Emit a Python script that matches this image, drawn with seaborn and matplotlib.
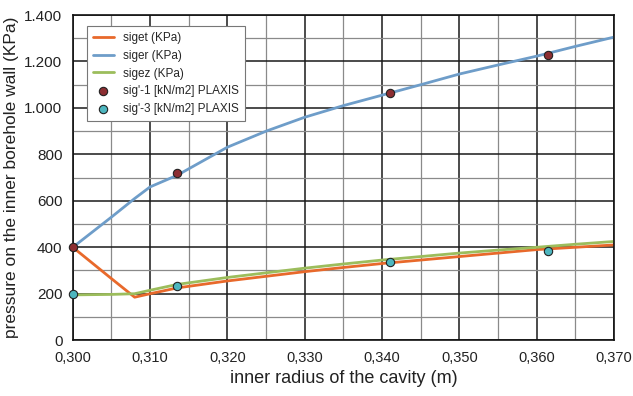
import numpy as np
import pandas as pd
import matplotlib
matplotlib.use("Agg")
import matplotlib.pyplot as plt
import seaborn as sns
from matplotlib.ticker import MultipleLocator, FuncFormatter

sns.set_style("white")
plt.rcParams['font.family'] = ['Liberation Sans', 'DejaVu Sans']

# analytical curves
r = [0.300, 0.305, 0.308, 0.310, 0.3135, 0.320, 0.325, 0.330, 0.335, 0.340, 0.345, 0.350, 0.355, 0.360, 0.365, 0.370]
siget = [400, 265, 185, 200, 225, 255, 275, 295, 313, 330, 345, 360, 375, 390, 400, 410]
siger = [400, 530, 610, 660, 710, 831, 900, 960, 1010, 1055, 1100, 1146, 1185, 1223, 1265, 1305]
sigez = [195, 197, 200, 215, 240, 270, 290, 310, 328, 345, 360, 375, 388, 400, 413, 425]

# PLAXIS points
r_pl = [0.300, 0.3135, 0.341, 0.3615]
sig1 = [400, 720, 1065, 1230]
sig3 = [200, 235, 335, 385]

df = pd.DataFrame({"r": r, "siget (KPa)": siget, "siger (KPa)": siger, "sigez (KPa)": sigez})
long = df.melt(id_vars="r", var_name="serie", value_name="p")

fig = plt.figure(figsize=(6.33, 3.96), dpi=100)
ax = fig.add_axes([0.115, 0.141, 0.855, 0.821])

ax.xaxis.set_major_locator(MultipleLocator(0.01))
ax.xaxis.set_minor_locator(MultipleLocator(0.005))
ax.yaxis.set_major_locator(MultipleLocator(200))
ax.yaxis.set_minor_locator(MultipleLocator(100))
ax.grid(which="major", color="#1a1a1a", lw=1.1)
ax.grid(which="minor", color="#8a8a8a", lw=0.9)
ax.set_axisbelow(True)

sns.lineplot(data=long, x="r", y="p", hue="serie", ax=ax, lw=2,
             palette=["#E8692B", "#6E9DC9", "#9CBD5C"])
ax.scatter(r_pl, sig1, s=36, color="#8C2E32", edgecolor="#222222", lw=0.8,
           zorder=5, label="sig'-1 [kN/m2] PLAXIS", clip_on=False)
ax.scatter(r_pl, sig3, s=36, color="#4DB6BF", edgecolor="#222222", lw=0.8,
           zorder=5, label="sig'-3 [kN/m2] PLAXIS", clip_on=False)

ax.set_xlim(0.300, 0.370)
ax.set_ylim(0, 1400)
ax.xaxis.set_major_formatter(FuncFormatter(lambda v, p: f"{v:.3f}".replace(".", ",")))
ax.yaxis.set_major_formatter(FuncFormatter(lambda v, p: f"{int(round(v)):,}".replace(",", ".")))
ax.tick_params(axis="both", which="major", labelsize=11, length=4, color="#333333", labelcolor="#222222")
ax.tick_params(axis="x", which="major", labelsize=10.5)
ax.tick_params(axis="both", which="minor", length=0)
for s in ax.spines.values():
    s.set_color("#111111")
    s.set_linewidth(1.2)

ax.set_xlabel("inner radius of the cavity (m)", fontsize=13, color="#222222")
ax.set_ylabel("pressure on the inner borehole wall (KPa)", fontsize=12.5, color="#222222")

leg = ax.legend(loc="upper left", bbox_to_anchor=(0.015, 0.985), fontsize=8.5,
                frameon=True, fancybox=False, edgecolor="#777777", framealpha=1,
                handlelength=1.8, borderpad=0.5, labelspacing=0.5)
leg.get_frame().set_linewidth(0.8)

fig.savefig("out.png", dpi=100)
